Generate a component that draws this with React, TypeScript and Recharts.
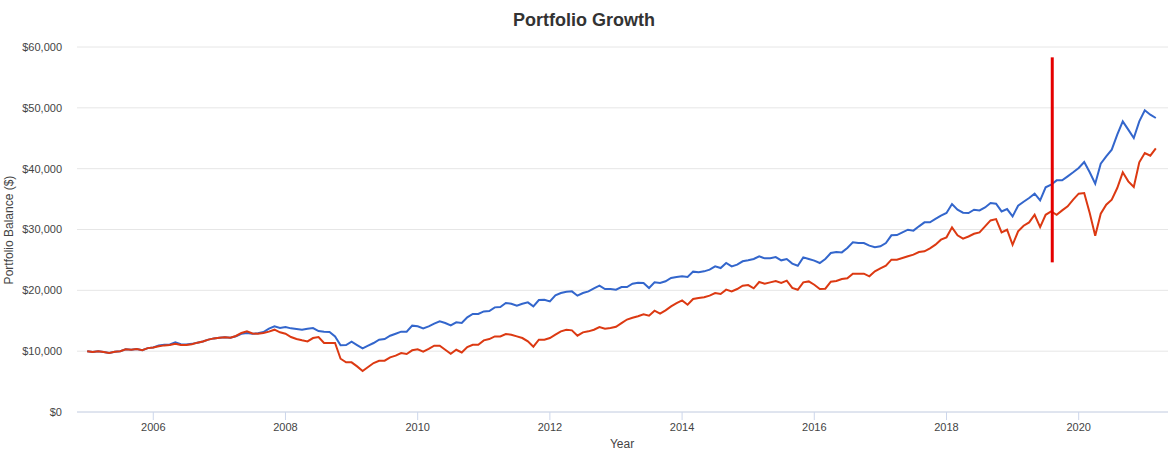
import { LineChart, Line, XAxis, YAxis, CartesianGrid, ReferenceLine } from 'recharts';

// Monthly balances, first point = starting balance (Jan 2005), then month ends
const START_YEAR = 2005;

const portfolio1 = [
  10000, 9850, 10000, 9850, 9700, 9900, 10000, 10300, 10250, 10350, 10150, 10500,
  10600, 10950, 11050, 11100, 11450, 11150, 11100, 11200, 11400, 11600, 11900, 12100,
  12200, 12300, 12200, 12450, 12850, 13000, 12850, 12950, 13150, 13700, 14080, 13800,
  13970, 13750, 13640, 13530, 13700, 13800, 13310, 13210, 13150, 12430, 10960, 11010,
  11560, 11010, 10470, 10910, 11340, 11890, 12000, 12540, 12870, 13210, 13210, 14190,
  14080, 13750, 14080, 14520, 14900, 14630, 14240, 14740, 14630, 15560, 16110, 16110,
  16540, 16600, 17200, 17260, 17910, 17800, 17470, 17800, 18020, 17370, 18410, 18460,
  18190, 19180, 19560, 19780, 19830, 19120, 19560, 19830, 20330, 20760, 20220, 20220,
  20110, 20550, 20550, 21090, 21260, 21200, 20380, 21310, 21200, 21480, 22030, 22190,
  22300, 22190, 23070, 22960, 23120, 23400, 23940, 23670, 24490, 23940, 24220, 24770,
  24930, 25150, 25580, 25260, 25260, 25470, 24930, 25150, 24400, 24050, 25420, 25150,
  24880, 24490, 25150, 26130, 26300, 26240, 26960, 27890, 27780, 27780, 27340, 27070,
  27230, 27780, 29040, 29090, 29530, 29970, 29810, 30520, 31180, 31180, 31730, 32270,
  32710, 34190, 33260, 32770, 32700, 33250, 33140, 33630, 34350, 34240, 32970, 33360,
  32150, 33910, 34570, 35170, 35890, 34790, 36930, 37370, 38080, 38080, 38740, 39400,
  40110, 41090, 39400, 37530, 40820, 42020, 43120, 45590, 47780, 46410, 45040, 47780,
  49590, 48870, 48330,
];

const portfolio2 = [
  10000, 9850, 10000, 9850, 9700, 9900, 10000, 10300, 10250, 10350, 10150, 10500,
  10600, 10800, 10950, 11000, 11200, 11000, 11000, 11150, 11400, 11600, 11900, 12100,
  12200, 12300, 12200, 12500, 13000, 13250, 12900, 12870, 12980, 13210, 13530, 13100,
  12870, 12330, 12000, 11780, 11610, 12160, 12330, 11340, 11340, 11340, 8760, 8160,
  8160, 7500, 6740, 7390, 8050, 8430, 8430, 8980, 9260, 9700, 9530, 10140,
  10300, 9920, 10380, 10900, 10890, 10230, 9570, 10230, 9790, 10670, 11060, 11060,
  11770, 11990, 12430, 12430, 12820, 12710, 12430, 12160, 11610, 10730, 11880, 11880,
  12160, 12710, 13260, 13530, 13420, 12540, 13090, 13260, 13530, 13970, 13700, 13800,
  14000, 14600, 15200, 15500, 15750, 16050, 15830, 16650, 16160, 16710, 17370, 17910,
  18350, 17640, 18570, 18740, 18850, 19120, 19560, 19400, 20110, 19830, 20220, 20760,
  20870, 20330, 21370, 21090, 21310, 21530, 21200, 21590, 20400, 20100, 21310, 21470,
  20920, 20210, 20270, 21420, 21530, 21860, 21970, 22740, 22740, 22740, 22300, 23120,
  23610, 24050, 25040, 25040, 25310, 25590, 25860, 26300, 26410, 26900, 27500, 28330,
  28710, 30360, 29040, 28500, 28850, 29300, 29520, 30510, 31490, 31710, 29520, 29960,
  27490, 29690, 30620, 31170, 32420, 30400, 32420, 32970, 32420, 33140, 33800, 34900,
  35890, 36000, 32700, 28970, 32590, 34070, 34900, 36820, 39400, 37910, 36980, 41040,
  42570, 42130, 43340,
];

const yearTicks = [2006, 2008, 2010, 2012, 2014, 2016, 2018, 2020];
const balanceTicks = [0, 10000, 20000, 30000, 40000, 50000, 60000];

// red marker drawn across the lines
const markerYear = 2019.6;
const markerLow = 24600;
const markerHigh = 58300;

const chartData = portfolio1.map((value, i) => ({
  t: START_YEAR + i / 12,
  p1: value,
  p2: portfolio2[i],
}));

const FONT = 'Arial, "Liberation Sans", sans-serif';
const AXIS_BLUE = '#ccd6eb';

const formatDollars = (v: number) => '$' + v.toLocaleString('en-US');

export default function App() {
  return (
    <div
      style={{
        position: 'absolute',
        left: 0,
        top: 0,
        width: 1168,
        height: 451,
        background: '#fff',
        fontFamily: FONT,
      }}
    >
      <div
        style={{
          position: 'absolute',
          left: 0,
          top: 10,
          width: 1168,
          lineHeight: '20px',
          textAlign: 'center',
          fontSize: 18,
          fontWeight: 'bold',
          color: '#333',
        }}
      >
        Portfolio Growth
      </div>

      <LineChart
        width={1168}
        height={451}
        data={chartData}
        margin={{ top: 47, right: 0, bottom: 0, left: 0 }}
      >
        <CartesianGrid vertical={false} stroke="#e6e6e6" strokeWidth={1} />
        <XAxis
          type="number"
          dataKey="t"
          domain={[2004.846, 2021.351]}
          allowDataOverflow
          ticks={yearTicks}
          interval={0}
          height={39}
          stroke={AXIS_BLUE}
          tickSize={8}
          tickMargin={3}
          tick={{ fill: '#444', fontSize: 11, fontFamily: FONT }}
          tickFormatter={(v: number) => String(v)}
        />
        <YAxis
          type="number"
          domain={[0, 60000]}
          ticks={balanceTicks}
          interval={0}
          width={77}
          axisLine={false}
          tickLine={false}
          tickSize={0}
          tickMargin={15}
          tick={{ fill: '#444', fontSize: 11, fontFamily: FONT }}
          tickFormatter={formatDollars}
        />
        <Line
          type="linear"
          dataKey="p1"
          name="Portfolio 1"
          stroke="#3366cc"
          strokeWidth={2}
          dot={false}
          isAnimationActive={false}
        />
        <Line
          type="linear"
          dataKey="p2"
          name="Portfolio 2"
          stroke="#dc3912"
          strokeWidth={2}
          dot={false}
          isAnimationActive={false}
        />
        <ReferenceLine
          segment={[
            { x: markerYear, y: markerLow },
            { x: markerYear, y: markerHigh },
          ]}
          stroke="#e50000"
          strokeWidth={3}
          ifOverflow="visible"
        />
      </LineChart>

      <div
        style={{
          position: 'absolute',
          left: 8.5 - 100,
          top: 230 - 7,
          width: 200,
          height: 14,
          lineHeight: '14px',
          textAlign: 'center',
          fontSize: 12,
          color: '#444',
          transform: 'rotate(-90deg)',
        }}
      >
        Portfolio Balance ($)
      </div>

      <div
        style={{
          position: 'absolute',
          left: 622 - 100,
          top: 437,
          width: 200,
          lineHeight: '14px',
          textAlign: 'center',
          fontSize: 12,
          color: '#444',
        }}
      >
        Year
      </div>
    </div>
  );
}
